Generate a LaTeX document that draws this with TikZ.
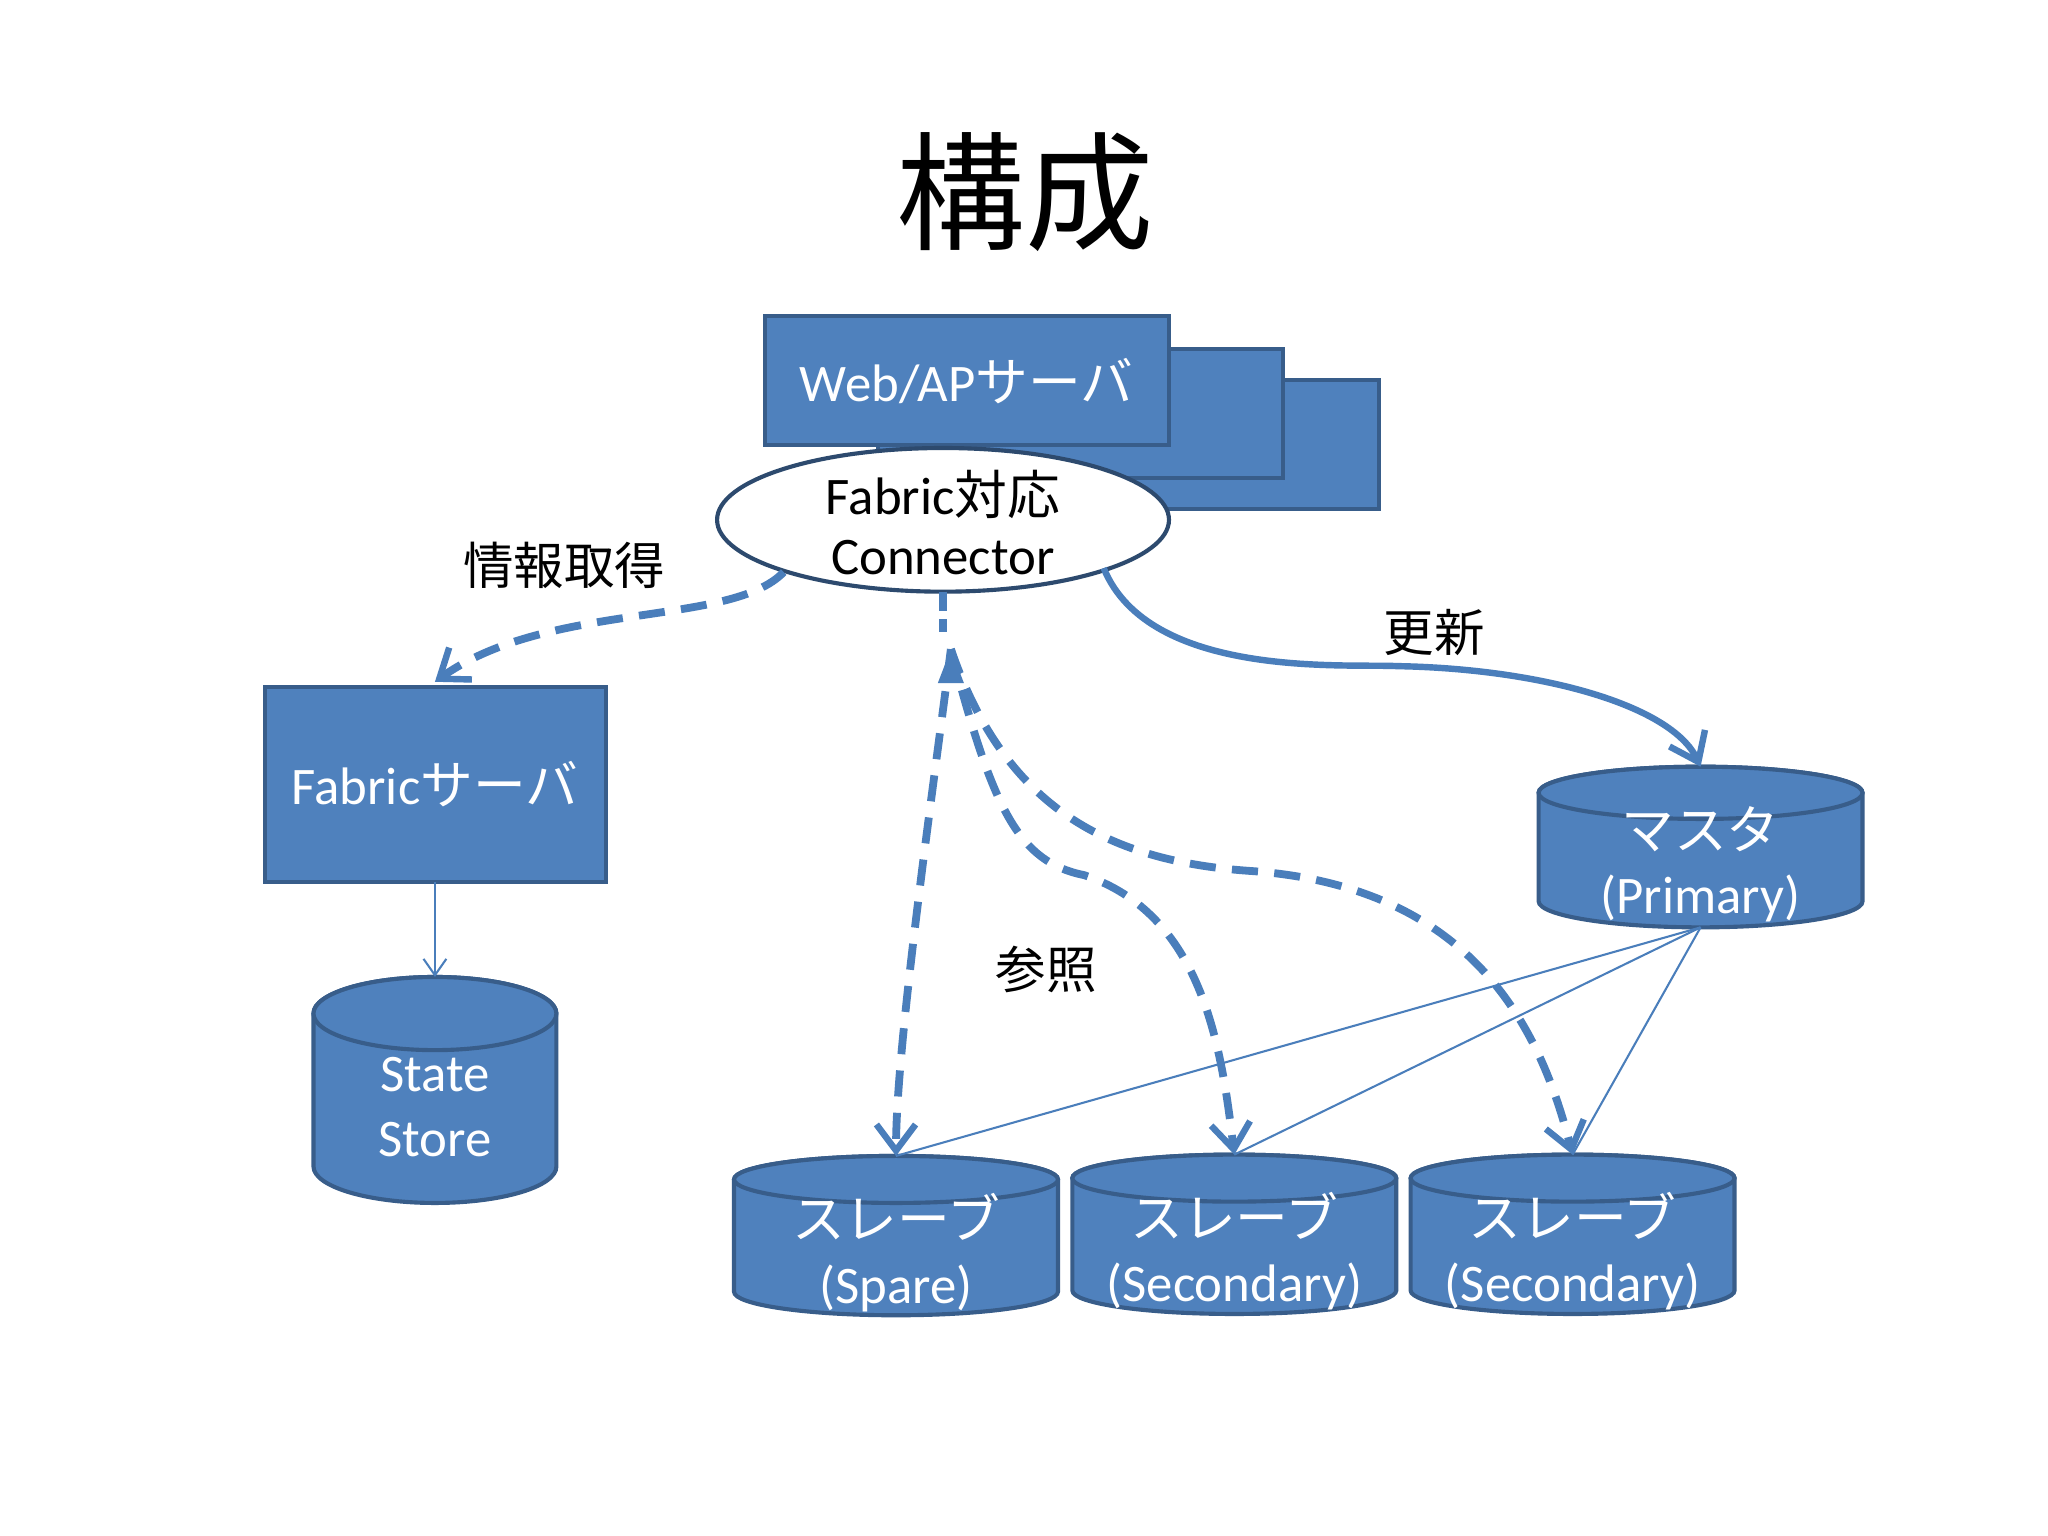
\documentclass[tikz,border=0pt]{standalone}
\usepackage{fontspec}
\setmainfont{Carlito}
\newfontfamily\cjk{Noto Sans CJK JP}
\usetikzlibrary{arrows.meta}
\definecolor{fillb}{HTML}{4F81BD}
\definecolor{edgeb}{HTML}{385D8A}
\definecolor{lineb}{HTML}{4A7EBB}
\tikzset{
  box/.style={draw=edgeb,fill=fillb,line width=1.8pt},
  wt/.style={text=white,font=\fontsize{23}{28}\selectfont,align=center},
  lbl/.style={font=\cjk\fontsize{22}{26}\selectfont},
  dsh/.style={draw=lineb,line width=3.4pt,dash pattern=on 0.4cm off 0.25cm},
  tip/.style={-{Straight Barb[length=0.4cm,width=0.6cm,line width=2.8pt]}},
  thin/.style={draw=lineb,line width=0.9pt},
}
\newcommand\mycyl[8]{% name cx top bottom hw ry line1 line2
  \filldraw[box] ({#2-#5},#3) -- ({#2-#5},#4) arc[start angle=180,end angle=0,x radius=#5,y radius=#6] -- ({#2+#5},#3) arc[start angle=0,end angle=-180,x radius=#5,y radius=#6] -- cycle;
  \draw[box] (#2,#3) ellipse[x radius=#5,y radius=#6];
  \node[wt] (#1) at (#2,{(#3+#4)/2+13}) {#7\\#8};
  \coordinate (#1-top) at (#2,{#3-#6});
  \coordinate (#1-bot) at (#2,{#4+#6});
}
\begin{document}
\begin{tikzpicture}[x=0.02cm,y=-0.02cm]
\useasboundingbox[fill=white] (0,0) rectangle (1568,1176);
\node[font=\cjk\fontsize{56}{60}\selectfont] (title) at (785,147) {構成};
% web servers
\filldraw[box] (760,291) rectangle (1056,390);
\filldraw[box] (672,267) rectangle (982,366);
\filldraw[box] (586,242) rectangle (895,341);
\node[wt] (web) at (740,292) {Web/AP{\cjk サーバ}};
% connector
\draw[draw=edgeb!80!black,fill=white,line width=1.8pt] (722,398) ellipse[x radius=173,y radius=55];
\node[font=\fontsize{23}{26}\selectfont,align=center] (conn) at (722,400) {Fabric{\cjk 対応}\\Connector};
\coordinate (connS) at (722,453);
\coordinate (connSW) at (600,438);
\coordinate (connSE) at (845,435);
% fabric server
\filldraw[box] (203,526) rectangle (464,675);
\node[wt] (fab) at (333,600) {Fabric{\cjk サーバ}};
\coordinate (fabS) at (333,675);
% cylinders
\mycyl{ss}{333}{776}{893}{93}{28}{State}{Store}
\mycyl{ma}{1302}{607}{690}{124}{20}{{\cjk マスタ}}{(Primary)}
\mycyl{s1}{686}{903}{989}{124}{18}{{\cjk スレーブ}}{(Spare)}
\mycyl{s2}{945}{902}{988}{124}{18}{{\cjk スレーブ}}{(Secondary)}
\mycyl{s3}{1204}{902}{988}{124}{18}{{\cjk スレーブ}}{(Secondary)}
% labels
\node[lbl] (l1) at (432,433) {情報取得};
\node[lbl] (l2) at (1098,484) {更新};
\node[lbl] (l3) at (801,742) {参照};
% connectors
\draw[dsh,tip] (connSW) .. controls (560,480) and (420,460) .. (333,522);
\draw[thin,-{Straight Barb[length=0.25cm,width=0.35cm]}] (fabS) -- (ss-top);
\draw[draw=lineb,line width=2.8pt,tip] (connSE) .. controls (880,520) and (1030,508) .. (1070,510) .. controls (1180,512) and (1280,540) .. (ma-top);
\coordinate (hub) at (728,497);
\draw[draw=lineb,line width=3.4pt,dash pattern=on 0.3cm off 0.12cm] (connS) -- (722,484);
\draw[dsh,tip] (hub) .. controls (715,600) and (686,800) .. (s1-top);
\draw[dsh,tip] (hub) .. controls (760,620) and (780,660) .. (830,670) .. controls (920,700) and (935,800) .. (s2-top);
\draw[dsh,tip] (hub) .. controls (770,620) and (850,660) .. (960,667) .. controls (1130,680) and (1180,790) .. (s3-top);
\fill[lineb] (hub) -- ++(-10,26) -- ++(20,0) -- cycle;
\draw[thin] (ma-bot) -- (s1-top);
\draw[thin] (ma-bot) -- (s2-top);
\draw[thin] (ma-bot) -- (s3-top);
\end{tikzpicture}
\end{document}
